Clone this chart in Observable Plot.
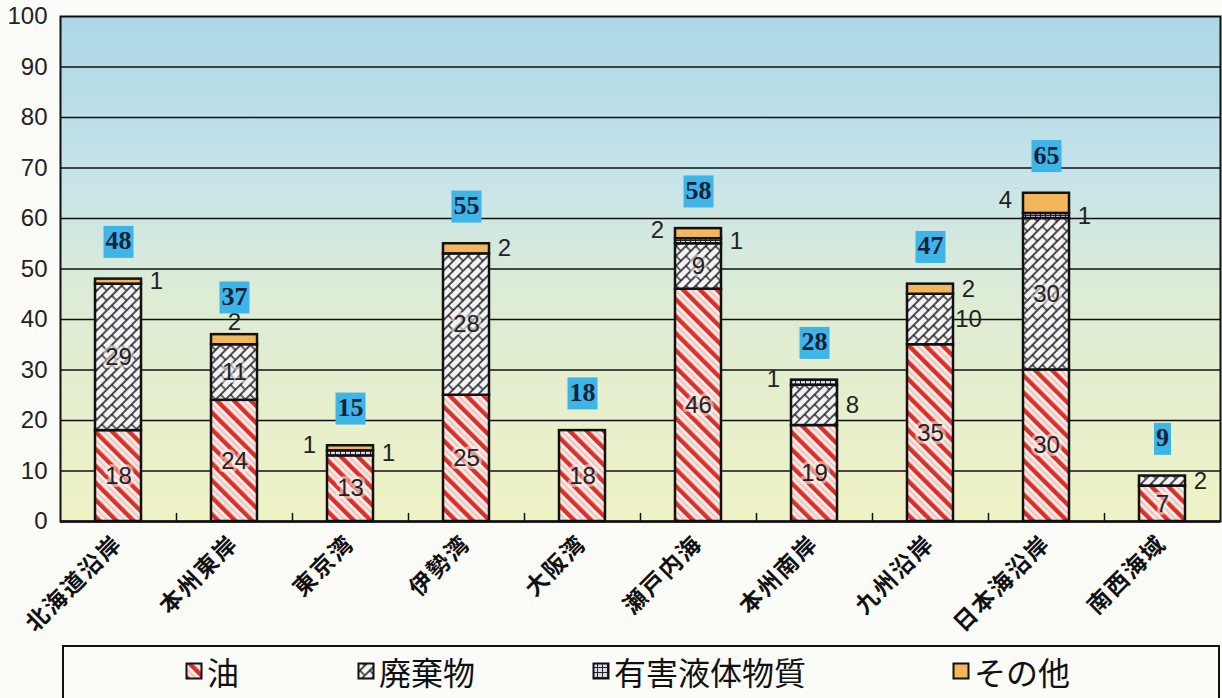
<!DOCTYPE html>
<html><head><meta charset="utf-8">
<script src="https://cdn.jsdelivr.net/npm/d3@7"></script>
<script src="https://cdn.jsdelivr.net/npm/@observablehq/plot@0.6"></script>
<style>
body{margin:0;background:#fbfbf8;width:1222px;height:698px;overflow:hidden;position:relative;font-family:"Noto Sans CJK JP",sans-serif}
#legend{position:absolute;left:62px;top:645px;width:1158px;height:60px;border:2px solid #111;border-bottom:none;box-sizing:border-box}
.item{position:absolute;top:1px;font-size:32px;line-height:46px;display:flex;align-items:center;color:#111;white-space:nowrap}
.item svg{margin-right:4px}
</style></head><body>
<div id="chart"></div>
<div id="legend"></div>
<script>
const regions = ["北海道沿岸","本州東岸","東京湾","伊勢湾","大阪湾","瀬戸内海","本州南岸","九州沿岸","日本海沿岸","南西海域"];
const types = ["油","廃棄物","有害液体物質","その他"];
const oil       = [18,24,13,25,18,46,19,35,30,7];
const waste     = [29,11, 0,28, 0, 9, 8,10,30,2];
const hazardous = [ 0, 0, 1, 0, 0, 1, 1, 0, 1,0];
const other     = [ 1, 2, 1, 2, 0, 2, 0, 2, 4,0];
const totals    = [48,37,15,55,18,58,28,47,65,9];
const yTicks = [0,10,20,30,40,50,60,70,80,90,100];

const series = [oil, waste, hazardous, other];
const rows = [];
regions.forEach((r, i) => {
  let base = 0;
  types.forEach((t, k) => {
    const v = series[k][i];
    if (v > 0) rows.push({region: r, type: t, value: v, mid: base + v / 2, top: base + v});
    base += v;
  });
});
const totalRows = regions.map((r, i) => ({region: r, total: totals[i]}));

// where the small segment labels sit
const place = {
  "北海道沿岸": {"その他": "right"},
  "本州東岸": {"その他": "top"},
  "東京湾": {"有害液体物質": "right", "その他": "left"},
  "伊勢湾": {"その他": "right"},
  "瀬戸内海": {"有害液体物質": "right", "その他": "left"},
  "本州南岸": {"廃棄物": "right", "有害液体物質": "left"},
  "九州沿岸": {"廃棄物": "right", "その他": "right"},
  "日本海沿岸": {"有害液体物質": "right", "その他": "left"},
  "南西海域": {"廃棄物": "right"}
};
const side = d => (place[d.region] || {})[d.type] || "in";

const W = 1222, H = 645, ML = 60, MR = 2;
const step = (W - ML - MR) / regions.length;
const fills = ["url(#p-oil)", "url(#p-waste)", "url(#p-haz)", "#f2b65c"];
const numFont = "Liberation Sans, Arial, sans-serif";
const lbl = {fontSize: 24, fill: "#222", fontFamily: numFont};

const svg = Plot.plot({
  width: W, height: H,
  marginLeft: ML, marginRight: MR, marginTop: 16, marginBottom: H - 521,
  style: {background: "transparent", fontFamily: numFont, fontSize: "23px", color: "#111"},
  x: {type: "band", domain: regions, paddingInner: 0.6, paddingOuter: 0.3, label: null},
  y: {domain: [0, 100], label: null},
  color: {domain: types, range: fills},
  marks: [
    Plot.frame({fill: "url(#bg)"}),
    Plot.ruleY(yTicks.filter(d => d > 0 && d < 100), {stroke: "#111", strokeWidth: 1.4}),
    Plot.ruleX(regions.slice(1), {y1: 0, y2: 1.6, dx: -step / 2, stroke: "#111", strokeWidth: 1.5}),
    Plot.barY(rows, {x: "region", y: "value", z: "type", fill: "type", order: types, stroke: "#111", strokeWidth: 2.5}),
    Plot.text(rows.filter(d => side(d) === "in"), {x: "region", y: "mid", text: "value", ...lbl, stroke: "#f6f0f0", strokeOpacity: 0.55, strokeWidth: 6}),
    Plot.text(rows.filter(d => side(d) === "right"), {x: "region", y: "mid", text: "value", dx: 38, ...lbl}),
    Plot.text(rows.filter(d => side(d) === "left"), {x: "region", y: "mid", text: "value", dx: -41, dy: -3, ...lbl}),
    Plot.text(rows.filter(d => side(d) === "top"), {x: "region", y: "top", text: "value", dy: -12, ...lbl}),
    Plot.text(totalRows, {x: "region", y: "total", text: "total", dy: -38, fontSize: 26, fontWeight: "bold", fontFamily: "Liberation Serif, serif", fill: "#132238", className: "totals", ariaLabel: "totals"}),
    Plot.axisY(yTicks, {tickSize: 0, tickPadding: 13, fontSize: 24, fontFamily: numFont, fill: "#222", label: null}),
    Plot.axisX({tickSize: 0, tickPadding: 18, tickRotate: -45, fontSize: 23, fontWeight: "bold", fontFamily: "Noto Sans CJK JP", fill: "#111", label: null}),
    Plot.ruleY([0], {stroke: "#111", strokeWidth: 2.5}),
    Plot.frame({stroke: "#111", strokeWidth: 2})
  ]
});

d3.select(svg).insert("defs", ":first-child").html(`
<linearGradient id="bg" x1="0" y1="0" x2="0" y2="1">
  <stop offset="0" stop-color="#abd7e5"/>
  <stop offset="0.3" stop-color="#c5e3ea"/>
  <stop offset="0.55" stop-color="#ddecd6"/>
  <stop offset="1" stop-color="#eff2c4"/>
</linearGradient>
<pattern id="p-oil" width="12" height="12" patternUnits="userSpaceOnUse" patternTransform="rotate(-45)">
  <rect width="12" height="12" fill="#fbeeea"/>
  <rect x="0" width="4.4" height="12" fill="#d8302a"/>
  <rect x="7.2" width="2" height="12" fill="#f2c0b5"/>
</pattern>
<pattern id="p-waste" width="14" height="14" patternUnits="userSpaceOnUse" patternTransform="rotate(-45)">
  <rect width="14" height="14" fill="#f3f3f7"/>
  <path d="M0 1H14 M0 8H14 M3 1V8 M10 8V15" stroke="#151515" stroke-width="1.3"/>
</pattern>
<pattern id="p-haz" width="5" height="5" patternUnits="userSpaceOnUse">
  <rect width="5" height="5" fill="#ddd8ee"/>
  <path d="M0 0.5H5 M0.5 0V5" stroke="#222" stroke-width="1"/>
</pattern>`);

document.getElementById("chart").appendChild(svg);

// x labels spaced a little like the original
svg.querySelectorAll('[aria-label="x-axis tick label"] text').forEach(t => { t.style.letterSpacing = "2px"; });

// blue boxes behind the totals
let totalTexts = [];
svg.querySelectorAll('[aria-label="totals"], .totals').forEach(el => {
  if (el.tagName.toLowerCase() === "text") totalTexts.push(el);
  else el.querySelectorAll("text").forEach(t => totalTexts.push(t));
});
totalTexts = [...new Set(totalTexts)];
totalTexts.forEach(t => {
  const b = t.getBBox();
  const cy = b.y + b.height / 2 + 1;
  const r = document.createElementNS("http://www.w3.org/2000/svg", "rect");
  r.setAttribute("x", b.x - 2);
  r.setAttribute("y", cy - 16);
  r.setAttribute("width", b.width + 4);
  r.setAttribute("height", 32);
  r.setAttribute("fill", "#3fb4e6");
  if (t.getAttribute("transform")) r.setAttribute("transform", t.getAttribute("transform"));
  t.parentNode.insertBefore(r, t);
});

const legend = document.getElementById("legend");
const lefts = [121, 293, 528, 888];
types.forEach((t, k) => {
  const div = document.createElement("div");
  div.className = "item";
  div.style.left = lefts[k] + "px";
  div.innerHTML = `<svg width="18" height="18"><rect x="1.5" y="1.5" width="15" height="15" fill="${fills[k]}" stroke="#111" stroke-width="2"/></svg><span>${t}</span>`;
  legend.appendChild(div);
});
</script>
</body></html>
